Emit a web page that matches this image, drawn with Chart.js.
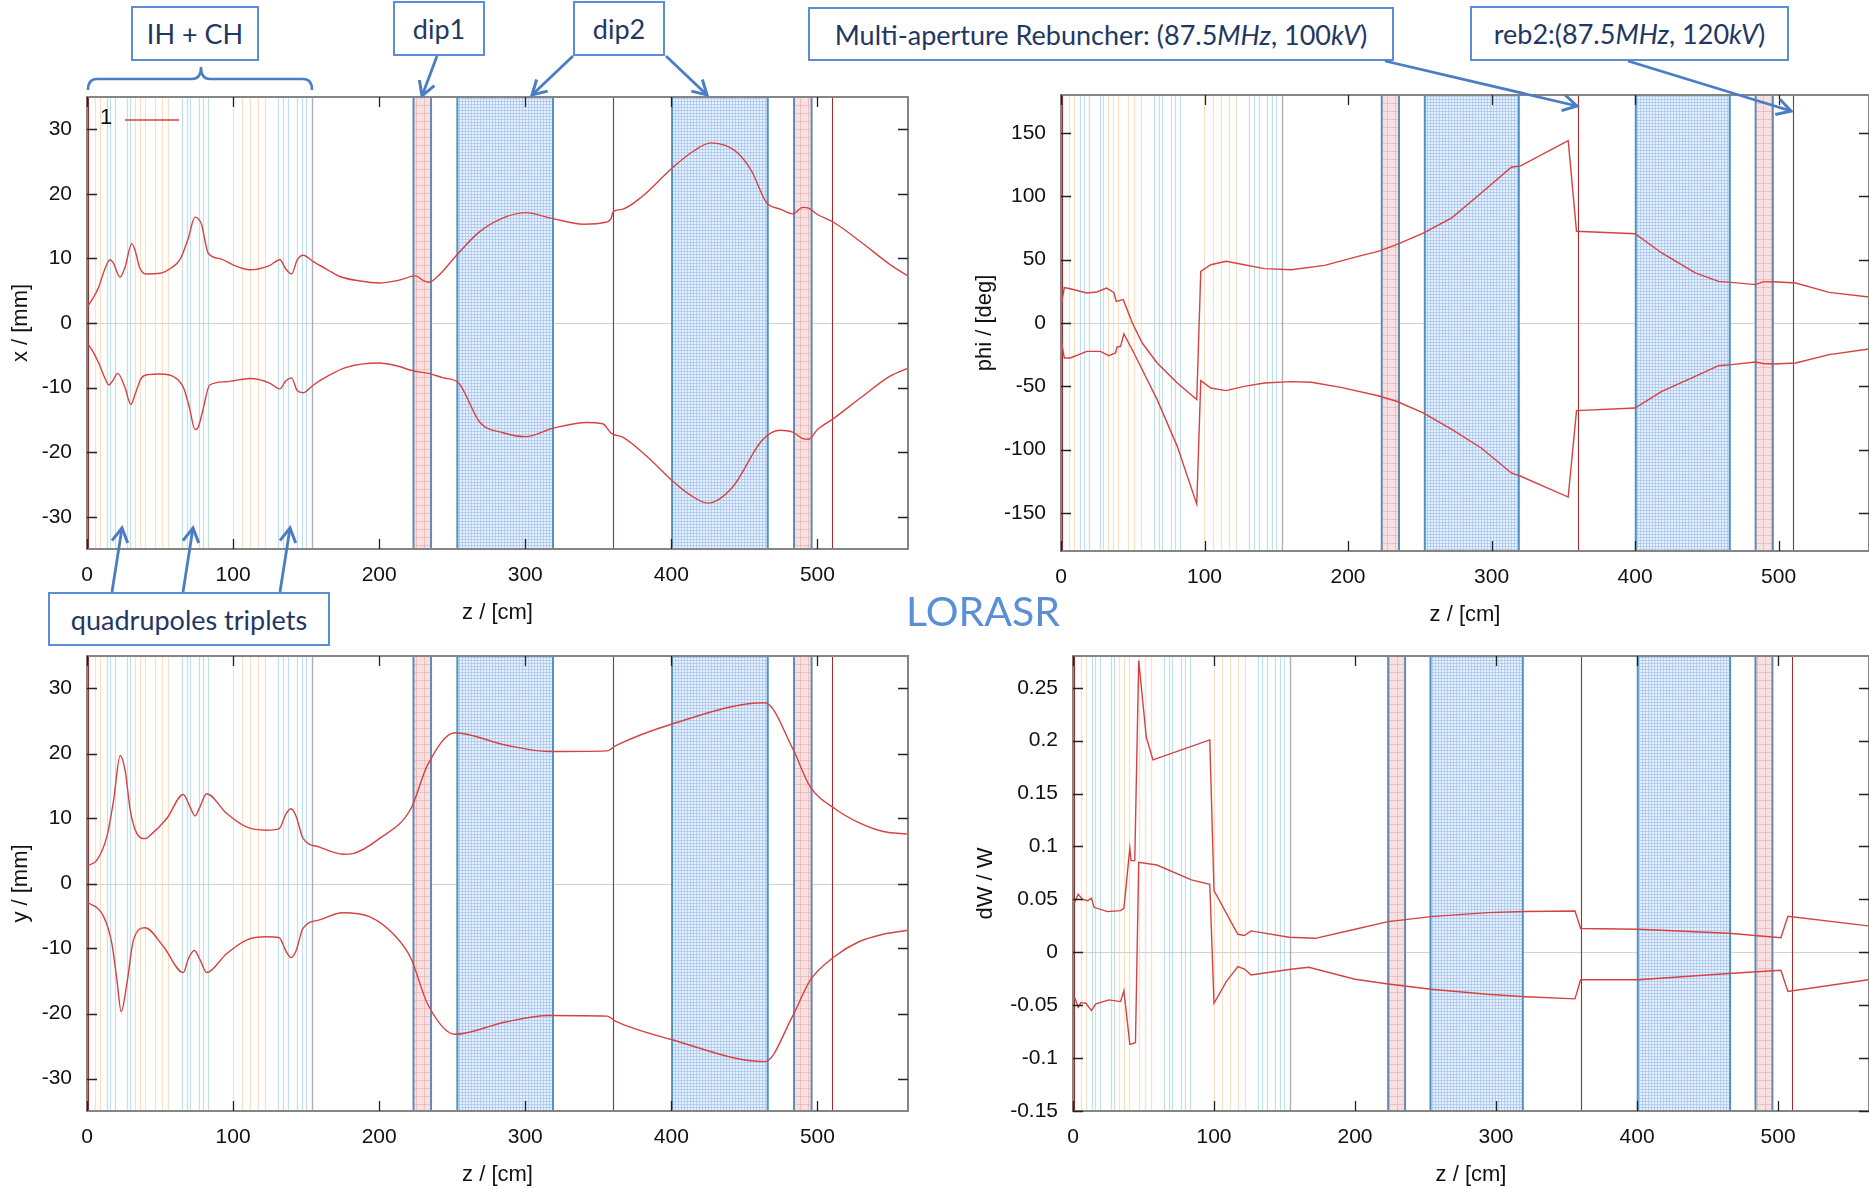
<!DOCTYPE html>
<html>
<head>
<meta charset="utf-8">
<script src="https://cdn.jsdelivr.net/npm/chart.js@4.4.0/dist/chart.umd.min.js"></script>
<style>
body{margin:0;width:1869px;height:1188px;overflow:hidden;background:#fff;position:relative}
.panel{position:absolute}
.note{position:absolute;box-sizing:border-box;border:2px solid #5b8ed6;background:#fff;color:#1f3763;
  font-family:Lato,'Open Sans',sans-serif;font-size:27px;display:flex;align-items:center;justify-content:center;white-space:nowrap}
#lorasr{position:absolute;left:983px;top:610px;transform:translate(-50%,-50%);font-family:Lato,sans-serif;font-size:41px;color:#5a8fd8}
#overlay{position:absolute;left:0;top:0}
</style>
</head>
<body>
<div class="panel" id="wrap-x"><canvas id="chart-x"></canvas></div>
<div class="panel" id="wrap-phi"><canvas id="chart-phi"></canvas></div>
<div class="panel" id="wrap-y"><canvas id="chart-y"></canvas></div>
<div class="panel" id="wrap-dw"><canvas id="chart-dw"></canvas></div>

<div id="lorasr">LORASR</div>
<div class="note" style="left:131px;top:6px;width:128px;height:55px">IH + CH</div>
<div class="note" style="left:393px;top:1px;width:92px;height:55px">dip1</div>
<div class="note" style="left:573px;top:1px;width:92px;height:55px">dip2</div>
<div class="note" style="left:808px;top:7px;width:586px;height:54px">Multi-aperture Rebuncher: (87.5<i>MHz</i>, 100<i>kV</i>)</div>
<div class="note" style="left:1470px;top:6px;width:319px;height:55px">reb2:(87.5<i>MHz</i>, 120<i>kV</i>)</div>
<div class="note" style="left:48px;top:592px;width:282px;height:54px">quadrupoles triplets</div>

<svg id="overlay" width="1869" height="1188">
  <defs>
    <marker id="head" markerUnits="userSpaceOnUse" viewBox="0 0 20 20" markerWidth="20" markerHeight="20" refX="16" refY="10" orient="auto">
      <path d="M2 2 L16 10 L2 18" fill="none" stroke="#4a7dc4" stroke-width="3"/>
    </marker>
  </defs>
  <g stroke="#4a7dc4" stroke-width="2.8" fill="none">
    <line x1="437" y1="56" x2="422" y2="96" marker-end="url(#head)"/>
    <line x1="573" y1="56" x2="532" y2="95" marker-end="url(#head)"/>
    <line x1="666" y1="56" x2="707" y2="95" marker-end="url(#head)"/>
    <line x1="1385" y1="61" x2="1577" y2="106" marker-end="url(#head)"/>
    <line x1="1628" y1="61" x2="1791" y2="111" marker-end="url(#head)"/>
    <line x1="112" y1="592" x2="122" y2="528" marker-end="url(#head)"/>
    <line x1="183" y1="592" x2="193" y2="528" marker-end="url(#head)"/>
    <line x1="280" y1="592" x2="290" y2="528" marker-end="url(#head)"/>
    <path d="M88 90 Q88 79 97 79 L192 79 Q201 79 201 67 Q201 79 210 79 L303 79 Q312 79 312 90" stroke-width="2.5"/>
  </g>
</svg>

<script>
// axis ticks
const zTicks = [0, 100, 200, 300, 400, 500];
const xTicks = [-30, -20, -10, 0, 10, 20, 30];
const phiTicks = [-150, -100, -50, 0, 50, 100, 150];
const dwTicks = [-0.15, -0.1, -0.05, 0, 0.05, 0.1, 0.15, 0.2, 0.25];

// beam line elements (z in cm)
const quadLines = [13.5, 15.7, 19.2, 27.1, 29.4, 64.8, 68.2, 70.5, 76.9, 79.1, 83, 130.9, 134.3, 137.7, 143.5, 146.9, 149.8];
const cavityLines = [5.5, 8.9, 32.8, 36.3, 39.7, 46.5, 51.1, 55.6, 99.7, 105.8, 111.5, 117.2, 121.8];
const tankEnd = [154];
const magnetEdges = [[223.5, 235.5], [484, 496]];
const dipoles = [[253.5, 319], [400.5, 466]];
const rebunchers = [0.8, 360, 510];

// envelopes: [z, value]
const xUpper = [[0,2.4],[4,3.8],[7.7,5.4],[12,8.2],[15.7,9.8],[18,9.3],[22.6,7.1],[26,8.6],[30.6,12.3],[33,11.2],[36,8.6],[40.4,7.6],[50,7.7],[58,8.6],[63.6,9.8],[69.3,13.1],[73.9,16.4],[76,16.2],[78.5,15.2],[81,12.5],[83,10.8],[92,9.9],[100,9],[111.5,8.25],[125,8.9],[132,9.8],[136,8.4],[140,7.6],[144,9.8],[148,10.5],[155,9.5],[165,8.2],[173,7.2],[187,6.5],[200,6.2],[213,6.6],[225,7.3],[230,6.6],[234,6.3],[240,7.2],[253,10.5],[268,14],[283,16.1],[300,17.1],[318,16.2],[340,15.3],[355,15.6],[359,16.3],[360,17.2],[366,17.6],[380,19.6],[400,23.9],[415,26.6],[427,27.9],[437,27.5],[446,26.2],[455,23.5],[465,18.7],[475,17.6],[483,16.9],[490,17.9],[494,17.8],[500,16.8],[511,15.6],[530,12.5],[550,9],[562,7.3]];
const xLower = [[0,-3],[4,-4.4],[8,-6.2],[12,-8.4],[15,-9.6],[18,-8.8],[21,-7.8],[26,-10],[30,-12.6],[33,-11],[37,-8.6],[42,-8],[50,-7.9],[60,-8.4],[66,-10],[70,-13],[74,-16.5],[76,-16.2],[79,-13.8],[84,-9.6],[95,-9.1],[112,-8.6],[125,-9.3],[132,-10.2],[136,-9],[140,-8.5],[144,-10.5],[148,-10.8],[155,-9.6],[165,-8.2],[177,-6.9],[200,-6.2],[213,-6.7],[223,-7.4],[234,-7.8],[244,-8.5],[254,-9.2],[269,-15.4],[285,-17],[300,-17.6],[319,-16.3],[342,-15.4],[353,-15.6],[359,-17.1],[367,-17.7],[383,-20.6],[400,-24.3],[412,-26.5],[425,-27.9],[442,-25.4],[462,-18.2],[474,-16.6],[483,-16.9],[490,-17.9],[494,-18],[500,-16.5],[511,-14.8],[530,-11.5],[550,-8.2],[562,-7]];

const phiUpper = [[0,13],[2.3,28],[6.5,27],[18,23.7],[25,24.5],[31.7,27.6],[36.8,24.2],[38.5,17],[43.4,18.4],[49.7,0],[56.6,-15.8],[67,-31.6],[81,-47.4],[94.6,-60.5],[97.4,40.8],[104.4,46],[115,48.7],[127.7,46],[141.7,42.9],[160.4,42],[183.7,45.5],[207,52.6],[221,56.6],[233.8,61.8],[252.4,71],[272.3,83],[292.8,102.6],[313.8,123],[320.3,124],[353.4,144],[359.2,72.4],[400,70.5],[418.6,55.3],[441.9,39.5],[458.2,32.9],[467,32.1],[483.9,30.3],[489,32.5],[496.7,32.6],[511.9,31.6],[535.2,24.2],[563,20.5]];
const phiLower = [[0,-12.6],[2.3,-27.6],[6.5,-27.6],[18,-22.4],[27.5,-22.4],[33.3,-25.8],[38,-23.7],[39,-19],[41.5,-18.4],[43.8,-8.7],[50.8,-23.7],[67,-60.5],[81,-97.4],[94.6,-143],[97.4,-45.5],[104.4,-51.3],[115,-53.4],[127.7,-50],[141.7,-47.4],[160.4,-46.3],[174.4,-46.8],[195,-50.8],[221,-57.4],[233.8,-61.8],[252.4,-71],[272.3,-84],[292.8,-98.7],[313.8,-118.4],[320.3,-121],[353.4,-137.4],[359.2,-69.2],[400,-67.1],[418.6,-54],[441.9,-42.1],[458.2,-33.7],[467,-32.9],[483.9,-30.8],[489,-32],[496.7,-32.4],[511.9,-31.6],[535.2,-25],[563,-20.5]];

const yUpper = [[0,2.7],[6.8,3.6],[13.6,7.2],[18.2,12.8],[22.7,19.7],[26.1,17.4],[29.6,11.3],[34.1,7.7],[39.8,6.9],[43.2,7.4],[54.6,10],[65.9,13.7],[70.5,11.8],[73.9,10.4],[77.3,11.8],[81.9,13.8],[95.5,10.8],[109.1,8.7],[122.8,8.2],[131.4,8.4],[136.4,10.8],[139.8,11.5],[143.2,10.3],[147.8,7],[159.2,5.6],[175.1,4.5],[181.9,4.6],[200.1,6.9],[221.7,11.5],[233.1,18.2],[251.9,23.2],[286.5,21.3],[316,20.3],[356,20.4],[362,21.2],[400,24.5],[464,27.8],[483,20.8],[495,14.9],[512,11.5],[528,9.4],[545,8],[562,7.6]];
const yLower = [[0,-2.8],[11.4,-5.1],[17,-9.2],[20.5,-14.9],[23.4,-19.7],[27.3,-15.4],[31.8,-8.7],[39.8,-6.8],[52.3,-9.7],[65.9,-13.7],[69.5,-11.5],[73.5,-10.3],[77.5,-11.8],[81.9,-13.7],[95.5,-10.8],[109.1,-8.7],[122.8,-8.2],[131.4,-8.3],[136.4,-10.5],[139.8,-11.4],[143.2,-10.3],[147.8,-6.9],[159.2,-5.6],[175.1,-4.5],[193.3,-5.1],[211.5,-8.2],[221.7,-11.5],[233.1,-18.5],[251.9,-23.2],[286.5,-21.3],[316,-20.3],[356,-20.4],[362,-21.2],[400,-24],[464,-27.4],[483,-20.4],[495,-14.9],[512,-11.2],[528,-9],[545,-7.8],[562,-7.2]];

const dwUpper = [[0.9,0.0463],[3.7,0.0548],[6.8,0.05],[10.3,0.0488],[13.1,0.051],[15,0.0425],[24.4,0.0384],[33.7,0.0394],[36.1,0.0416],[40.3,0.0983],[41.2,0.0866],[43.8,0.0866],[46.6,0.2757],[52,0.2032],[56.7,0.1818],[97,0.2007],[100,0.0583],[116.9,0.017],[121.6,0.0158],[126.3,0.0202],[153.2,0.0142],[171.9,0.0132],[197.7,0.0211],[223.5,0.029],[254,0.0337],[293.8,0.0375],[321,0.0385],[356,0.039],[360,0.0225],[401,0.0218],[465,0.018],[502,0.0138],[507,0.034],[564,0.025]];
const dwLower = [[0.9,-0.0419],[3.7,-0.052],[5.6,-0.0476],[9.1,-0.0482],[13.1,-0.0551],[16.2,-0.0488],[25.5,-0.045],[33.7,-0.0466],[36.1,-0.0362],[40.3,-0.087],[44.3,-0.0854],[46.6,0.085],[59.5,0.0825],[84,0.0684],[97,0.0643],[100,-0.0482],[108.7,-0.0277],[116.9,-0.0135],[121.6,-0.0158],[126.3,-0.0214],[154.4,-0.016],[167.2,-0.0142],[200,-0.0255],[223.5,-0.03],[254,-0.035],[293.8,-0.0397],[321,-0.042],[356,-0.044],[360,-0.026],[401,-0.026],[465,-0.02],[502,-0.017],[507,-0.037],[564,-0.026]];

Chart.defaults.font.family = "'Liberation Sans', Arial, sans-serif";

const TOP_PAD = 32;

function tile(size, bg, line){
    let c = document.createElement('canvas');
    c.width = size; c.height = size;
    let g = c.getContext('2d');
    g.fillStyle = bg; g.fillRect(0, 0, size, size);
    g.fillStyle = line;
    g.fillRect(0, 0, size, 1);
    g.fillRect(0, 0, 1, size);
    return c;
}
const pinkTile = tile(8, '#f8e0e0', 'rgba(230,160,160,0.5)');
const blueTile = tile(3, '#e8f0fb', 'rgba(165,198,240,0.75)');

const beamline = {
    id: 'beamline',
    beforeDatasetsDraw(chart, args, opts){
        const {ctx, chartArea: a, scales: {x, y}} = chart;
        ctx.save();
        ctx.beginPath();
        ctx.rect(a.left, a.top, a.width, a.height);
        ctx.clip();

        // zero line
        let y0 = Math.round(y.getPixelForValue(0)) + 0.5;
        ctx.strokeStyle = 'rgba(205,205,205,0.9)';
        ctx.lineWidth = 1;
        ctx.beginPath(); ctx.moveTo(a.left, y0); ctx.lineTo(a.right, y0); ctx.stroke();

        function vline(z, color, w){
            let px = Math.round(x.getPixelForValue(z)) + 0.5;
            ctx.strokeStyle = color; ctx.lineWidth = w;
            ctx.beginPath(); ctx.moveTo(px, a.top); ctx.lineTo(px, a.bottom); ctx.stroke();
        }
        cavityLines.forEach(z => vline(z, 'rgba(245,205,160,0.6)', 1.2));
        quadLines.forEach(z => vline(z, 'rgba(150,205,220,0.6)', 1.2));
        tankEnd.forEach(z => vline(z, 'rgba(140,150,160,0.75)', 1.4));
        rebunchers.forEach(z => vline(z, '#9a2f2f', 1.1));

        function band(r, fill, border){
            let x0 = x.getPixelForValue(r[0]), x1 = x.getPixelForValue(r[1]);
            ctx.fillStyle = fill;
            ctx.fillRect(x0, a.top, x1 - x0, a.height);
            ctx.strokeStyle = border; ctx.lineWidth = 2;
            ctx.strokeRect(x0, a.top, x1 - x0, a.height);
        }
        let pink = ctx.createPattern(pinkTile, 'repeat');
        let blue = ctx.createPattern(blueTile, 'repeat');
        magnetEdges.forEach(r => band(r, pink, '#6489b3'));
        dipoles.forEach(r => band(r, blue, '#4f94c4'));
        ctx.restore();
    },
    afterDraw(chart, args, opts){
        const {ctx, chartArea: a, scales: {x, y}} = chart;
        ctx.save();
        ctx.strokeStyle = '#858585';
        ctx.lineWidth = 2;
        ctx.strokeRect(a.left, a.top, a.width, a.height);

        ctx.strokeStyle = '#222';
        ctx.lineWidth = 1.3;
        x.ticks.forEach(t => {
            let px = Math.round(x.getPixelForValue(t.value)) + 0.5;
            ctx.beginPath();
            ctx.moveTo(px, a.bottom); ctx.lineTo(px, a.bottom - 10);
            ctx.moveTo(px, a.top); ctx.lineTo(px, a.top + 10);
            ctx.stroke();
        });
        y.ticks.forEach(t => {
            let py = Math.round(y.getPixelForValue(t.value)) + 0.5;
            ctx.beginPath();
            ctx.moveTo(a.left, py); ctx.lineTo(a.left + 10, py);
            ctx.moveTo(a.right, py); ctx.lineTo(a.right - 10, py);
            ctx.stroke();
        });

        if(opts.legend){
            ctx.fillStyle = '#111';
            ctx.font = "22px 'Liberation Sans', Arial, sans-serif";
            ctx.textAlign = 'center';
            ctx.textBaseline = 'middle';
            ctx.fillText('1', a.left + 19, a.top + 21);
            ctx.strokeStyle = 'rgb(214,64,64)';
            ctx.lineWidth = 1.4;
            ctx.beginPath(); ctx.moveTo(a.left + 38, a.top + 23); ctx.lineTo(a.left + 92, a.top + 23); ctx.stroke();
        }
        ctx.restore();
    }
};

function fmt(v){
    return String(Math.round(v * 100) / 100);
}

function makePanel(p){
    let wrap = document.getElementById('wrap-' + p.id);
    let canvas = document.getElementById('chart-' + p.id);
    let w = p.yW + (p.R - p.L) + p.rightPad;
    let h = TOP_PAD + (p.B - p.T) + 80;
    wrap.style.left = (p.L - p.yW) + 'px';
    wrap.style.top = (p.T - TOP_PAD) + 'px';
    canvas.width = w;
    canvas.height = h;

    let line = pts => pts.map(([z, v]) => ({x: z, y: v}));
    let style = {
        borderColor: 'rgb(214,66,66)',
        borderWidth: 1.4,
        pointRadius: 0,
        fill: false,
        cubicInterpolationMode: p.smooth ? 'monotone' : 'default',
        tension: 0
    };

    return new Chart(canvas, {
        type: 'line',
        data: {
            datasets: [
                Object.assign({label: '1', data: line(p.up)}, style),
                Object.assign({label: '1b', data: line(p.lo)}, style)
            ]
        },
        options: {
            responsive: false,
            animation: false,
            layout: {padding: {left: 0, top: TOP_PAD, right: p.rightPad, bottom: 0}},
            plugins: {
                legend: {display: false},
                tooltip: {enabled: false},
                beamline: {legend: !!p.legend}
            },
            scales: {
                x: {
                    type: 'linear',
                    min: 0,
                    max: p.zMax,
                    grid: {display: false, drawTicks: false},
                    border: {display: false},
                    afterBuildTicks: s => { s.ticks = zTicks.map(v => ({value: v})); },
                    afterFit: s => { s.height = 80; },
                    ticks: {padding: 14, color: '#111', font: {size: 21}, maxRotation: 0, autoSkip: false, callback: fmt},
                    title: {display: true, text: 'z / [cm]', color: '#111', font: {size: 22}, padding: {top: 0, bottom: 3}}
                },
                y: {
                    type: 'linear',
                    min: p.yMin,
                    max: p.yMax,
                    grid: {display: false, drawTicks: false},
                    border: {display: false},
                    afterBuildTicks: s => { s.ticks = p.ticks.map(v => ({value: v})); },
                    afterFit: s => { s.width = p.yW; },
                    ticks: {padding: 15, color: '#111', font: {size: 21}, autoSkip: false, callback: fmt},
                    title: {display: true, text: p.title, color: '#111', font: {size: 22}, padding: {top: p.titlePad, bottom: 0}}
                }
            }
        },
        plugins: [beamline]
    });
}

makePanel({id: 'x', L: 87, R: 908, T: 97, B: 549, yW: 87, rightPad: 10, zMax: 562,
    yMin: -35, yMax: 35, ticks: xTicks, title: 'x / [mm]', titlePad: 8, up: xUpper, lo: xLower, smooth: true, legend: true});
makePanel({id: 'phi', L: 1061, R: 1869, T: 95, B: 551, yW: 90, rightPad: 0, zMax: 563,
    yMin: -180, yMax: 180, ticks: phiTicks, title: 'phi / [deg]', titlePad: 1, up: phiUpper, lo: phiLower, smooth: false});
makePanel({id: 'y', L: 87, R: 908, T: 656, B: 1111, yW: 87, rightPad: 10, zMax: 562,
    yMin: -35, yMax: 35, ticks: xTicks, title: 'y / [mm]', titlePad: 8, up: yUpper, lo: yLower, smooth: true});
makePanel({id: 'dw', L: 1073, R: 1869, T: 656, B: 1111, yW: 100, rightPad: 0, zMax: 564.5,
    yMin: -0.15, yMax: 0.28, ticks: dwTicks, title: 'dW / W', titlePad: 0, up: dwUpper, lo: dwLower, smooth: false});
</script>
</body>
</html>
